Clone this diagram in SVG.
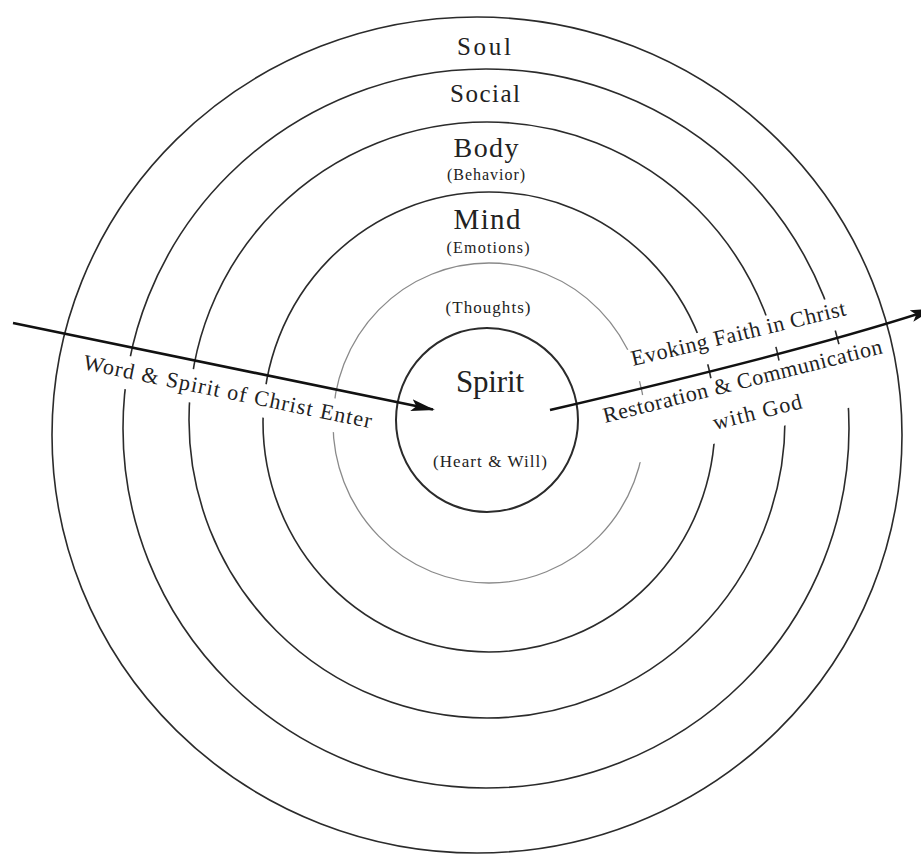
<svg xmlns="http://www.w3.org/2000/svg" width="921" height="855" viewBox="0 0 921 855">
<style>
.ring{fill:none;stroke:#2b2b2b;stroke-width:1.6}
.light{stroke:#8a8a8a;stroke-width:1.3}
.core{stroke-width:2}
.lbl{font-family:"Liberation Serif","Times New Roman",serif;fill:#222;text-anchor:middle}
.cap{font-family:"Liberation Serif","Times New Roman",serif;fill:#222;font-size:22px}
.gap{fill:#ffffff;stroke:none}
.arrow{fill:none;stroke:#111;stroke-width:2.6}
</style>
<defs>
<marker id="head" markerUnits="userSpaceOnUse" viewBox="0 0 26 14" markerWidth="26" markerHeight="14" refX="22" refY="6" orient="auto">
<path d="M0,0 L24,6 L0,12 L5,6 Z" fill="#111"/>
</marker>
<marker id="head2" markerUnits="userSpaceOnUse" viewBox="0 0 26 14" markerWidth="26" markerHeight="14" refX="10" refY="6" orient="auto">
<path d="M0,0 L24,6 L0,12 L5,6 Z" fill="#111"/>
</marker>
</defs>
<rect x="0" y="0" width="921" height="855" fill="#ffffff"/>

<g id="soul">
<ellipse class="ring" cx="477" cy="435" rx="425" ry="418"/>
<text class="lbl" x="484" y="55" font-size="25" textLength="54" lengthAdjust="spacing">Soul</text>
</g>
<g id="social">
<ellipse class="ring" cx="486" cy="428.5" rx="363" ry="359.5"/>
<text class="lbl" x="485" y="102" font-size="25" textLength="70" lengthAdjust="spacing">Social</text>
</g>
<g id="body">
<ellipse class="ring" cx="487" cy="420" rx="298" ry="298"/>
<text class="lbl" x="486" y="157" font-size="28" textLength="65" lengthAdjust="spacing">Body</text>
<text class="lbl" x="486" y="180" font-size="16" textLength="78" lengthAdjust="spacing">(Behavior)</text>
</g>
<g id="mind">
<ellipse class="ring" cx="489" cy="422" rx="226" ry="230"/>
<text class="lbl" x="487" y="229" font-size="29" textLength="67" lengthAdjust="spacing">Mind</text>
<text class="lbl" x="488" y="253" font-size="16" textLength="83" lengthAdjust="spacing">(Emotions)</text>
</g>
<g id="thoughts">
<ellipse class="ring light" cx="489" cy="423" rx="156" ry="160"/>
<text class="lbl" x="488" y="313" font-size="17" textLength="85" lengthAdjust="spacing">(Thoughts)</text>
</g>
<g id="spirit">
<ellipse class="ring core" cx="487" cy="420" rx="91" ry="92"/>
<text class="lbl" x="490" y="392" font-size="31" textLength="68" lengthAdjust="spacing">Spirit</text>
<text class="lbl" x="490" y="467" font-size="17" textLength="114" lengthAdjust="spacing">(Heart &amp; Will)</text>
</g>

<g id="label-gaps">
<polygon class="gap" points="78,345.4 385,408.7 385,442.7 78,379.4"/>
<polygon class="gap" points="622,351 645,346 729,325 802,306 860,289.5 860,323.5 802,340 729,359 645,380 622,385"/>
<polygon class="gap" points="598,405.6 645,394.6 729,373.8 802,354.6 880,332.8 880,399 802,421 729,440 645,461 598,472"/>
</g>

<g id="connectors">
<path class="arrow" d="M13,323 L433,409.6" marker-end="url(#head)"/>
<path class="arrow" d="M550,410 Q800,352 921,313" marker-end="url(#head2)"/>
<text class="cap" font-size="21" transform="translate(13,323) rotate(11.65)" x="77" y="31" textLength="294" lengthAdjust="spacing">Word &amp; Spirit of Christ Enter</text>
<text class="cap" transform="translate(633,366) rotate(-13.4)" x="0" y="0" textLength="220" lengthAdjust="spacing">Evoking Faith in Christ</text>
<text class="cap" transform="translate(605,423) rotate(-14.1)" x="0" y="0" textLength="287" lengthAdjust="spacing">Restoration &amp; Communication</text>
<text class="cap" transform="translate(715,430) rotate(-14)" x="0" y="0" textLength="91" lengthAdjust="spacing">with God</text>
</g>
</svg>
